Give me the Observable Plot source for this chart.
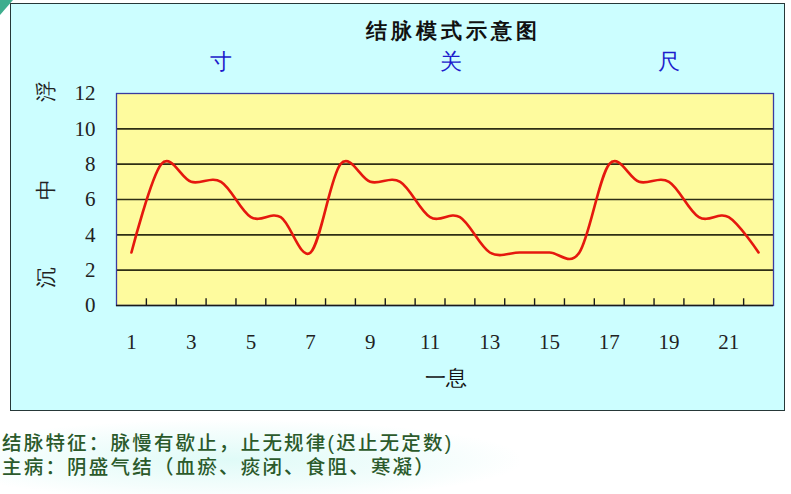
<!DOCTYPE html>
<html><head><meta charset="utf-8">
<script src="https://cdn.jsdelivr.net/npm/d3@7"></script>
<script src="https://cdn.jsdelivr.net/npm/@observablehq/plot@0.6"></script>
<style>
html,body{margin:0;padding:0;background:#fff;}
body{width:791px;height:494px;overflow:hidden;position:relative;font-family:"Noto Sans CJK SC","Noto Sans",sans-serif;}
#box{position:absolute;left:10px;top:3px;width:775px;height:408px;background:#ccfeff;border:1.5px solid #263838;box-sizing:border-box;}
#corner{position:absolute;left:0;top:0;width:0;height:0;border-top:15px solid #3eae8e;border-right:13px solid transparent;}
#chart{position:absolute;left:0;top:0;}
#glow{position:absolute;left:-60px;top:420px;width:580px;height:80px;background:radial-gradient(ellipse at 50% 50%, rgba(218,250,246,0.85) 0%, rgba(235,252,250,0.55) 50%, rgba(255,255,255,0) 72%);}
#cap{position:absolute;left:2px;top:431px;font-family:"Liberation Sans","Noto Sans CJK SC",sans-serif;font-size:19.5px;line-height:24px;color:#2b5a2b;font-weight:500;letter-spacing:2.2px;white-space:nowrap;}
#cap div{height:24px;overflow:visible;}
</style></head>
<body>
<div id="box"></div>
<div id="corner"></div>
<div id="chart"></div>
<div id="glow"></div>
<div id="cap"></div>
<script>
const categories = [1,2,3,4,5,6,7,8,9,10,11,12,13,14,15,16,17,18,19,20,21,22];
const pulse = [3,8,7,7,5,5,3,8,7,7,5,5,3,3,3,3,8,7,7,5,5,3];
const xTickLabels = [1,3,5,7,9,11,13,15,17,19,21];
const yTicks = [0,2,4,6,8,10,12];
const gridLines = [2,4,6,8,10];
const bandEdges = [1.5,2.5,3.5,4.5,5.5,6.5,7.5,8.5,9.5,10.5,11.5,12.5,13.5,14.5,15.5,16.5,17.5,18.5,19.5,20.5,21.5];
const positionLabels = ["寸","关","尺"];
const positionAt = [4, 11.7, 19];
const depthLabels = ["浮","中","沉"];
const depthAt = [11.5, 6, 1];
const title = "结脉模式示意图";
const xTitle = "一息";
const captionLines = ["结脉特征：脉慢有歇止，止无规律(迟止无定数)", "主病：阴盛气结（血瘀、痰闭、食阻、寒凝）"];

const rows = categories.map((c, i) => ({c, v: pulse[i]}));
const serif = "'Liberation Serif','DejaVu Serif',serif";

const chart = Plot.plot({
  width: 791,
  height: 412,
  marginLeft: 116,
  marginRight: 18,
  marginTop: 93,
  marginBottom: 107,
  style: {background: "transparent", overflow: "visible"},
  x: {domain: [0.5, 22.5]},
  y: {domain: [0, 12]},
  marks: [
    Plot.frame({fill: "#fefb9e", stroke: null}),
    Plot.ruleY(gridLines, {stroke: "#2e2e14", strokeWidth: 1.6}),
    Plot.frame({stroke: "#3a3aa0", strokeWidth: 1.3}),
    Plot.ruleY([0], {stroke: "#1a1a1a", strokeWidth: 1.6}),
    Plot.ruleX(bandEdges, {y1: 0, y2: 0.38, stroke: "#1a1a1a", strokeWidth: 1.4}),
    Plot.line(rows, {x: "c", y: "v", curve: "catmull-rom", tension: 0, stroke: "#e5180e", strokeWidth: 2.6}),
    Plot.axisY(yTicks, {tickSize: 0, tickPadding: 21, fontSize: 21, fontFamily: serif, fill: "#222", label: null}),
    Plot.axisX(xTickLabels, {tickSize: 0, tickPadding: 29, fontSize: 21, fontFamily: serif, fill: "#222", label: null}),
    Plot.text([title], {frameAnchor: "top", lineAnchor: "middle", dy: -62, dx: 8, fontSize: 21, fontWeight: "bold", fill: "#111", text: d => d, className: "ttl"}),
    Plot.text(positionLabels, {x: positionAt, frameAnchor: "top", lineAnchor: "middle", dy: -32, fontSize: 22, fontWeight: 500, fill: "#1c1ccc", text: d => d}),
    Plot.text(depthLabels, {y: depthAt, frameAnchor: "left", dx: -70, rotate: -90, fontSize: 21, fill: "#222", text: d => d}),
    Plot.text([xTitle], {frameAnchor: "bottom", lineAnchor: "middle", dy: 73, dx: 1, fontSize: 21, fill: "#111", text: d => d})
  ]
});
chart.querySelectorAll(".ttl text").forEach(t => t.setAttribute("letter-spacing", "4"));
document.getElementById("chart").appendChild(chart);
document.getElementById("cap").innerHTML = captionLines.map(s => `<div>${s}</div>`).join("");
</script>
</body></html>
